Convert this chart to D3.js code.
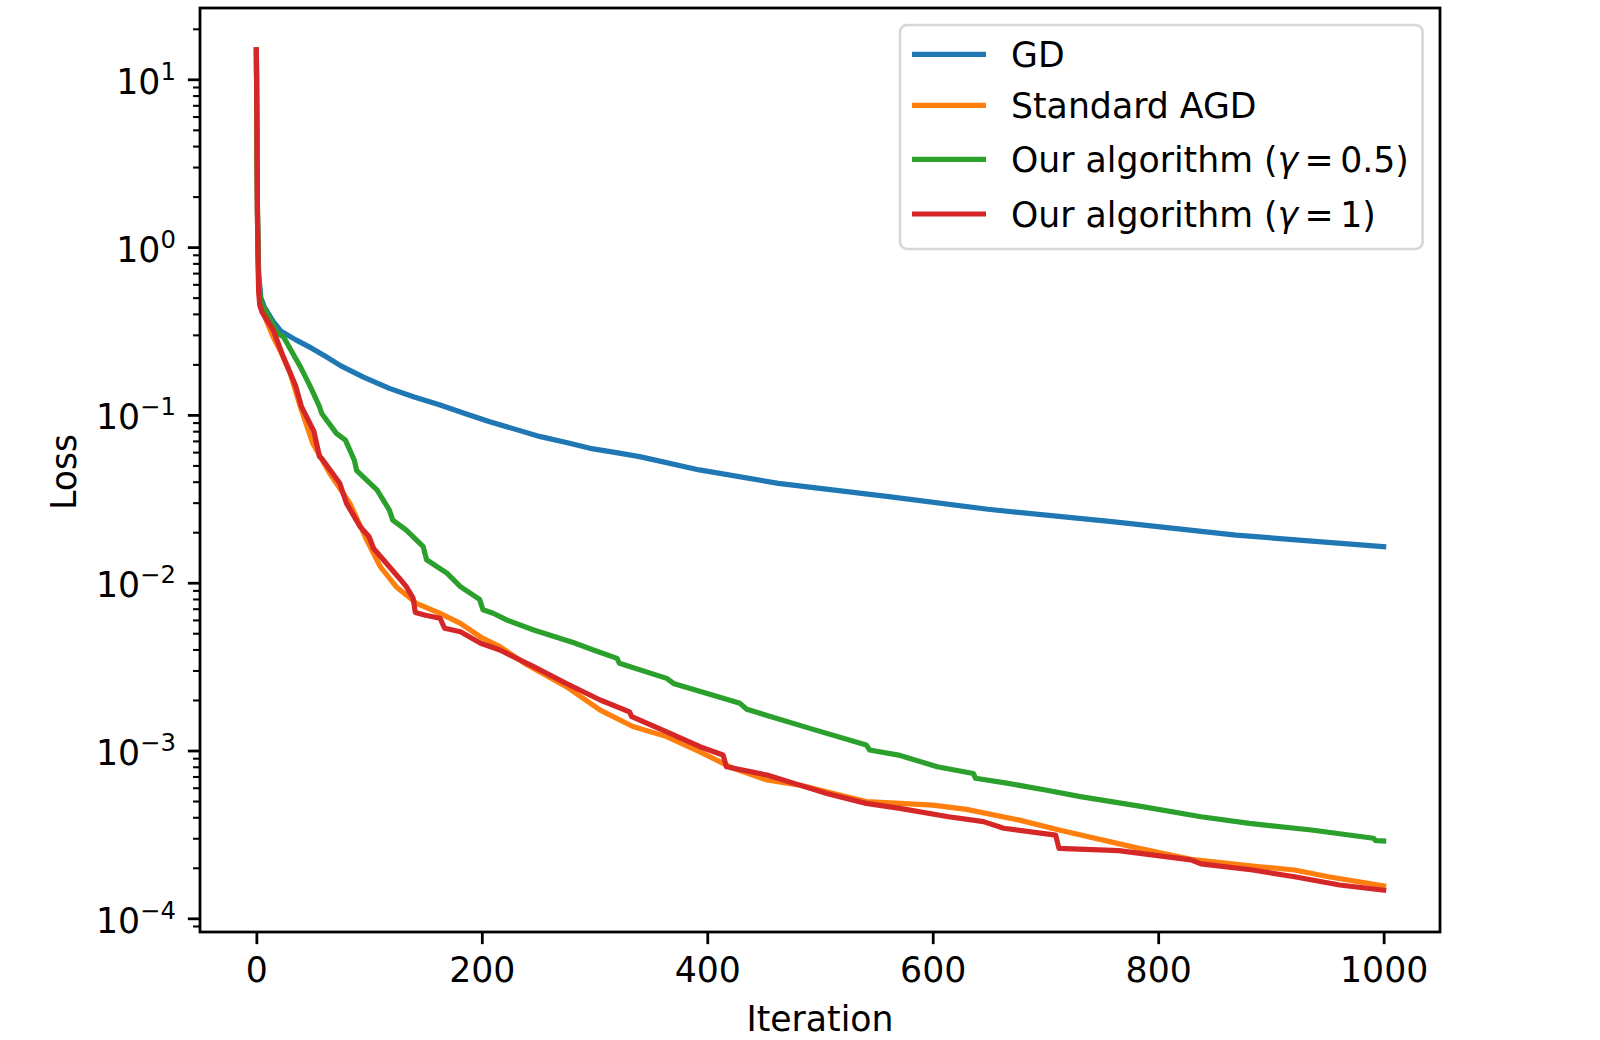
<!DOCTYPE html>
<html>
<head>
	<title>Loss vs Iteration</title>
	<style>
		body { margin: 0; background: #fff; }
		text { font-family: 'DejaVu Sans', sans-serif; fill: #000; }
	</style>
</head>
<body>

<svg id="chart" width="1600" height="1040"></svg>

<script src="https://d3js.org/d3.v7.min.js"></script>
<script>
	// -------------------------------------------------------------
	// Data (iteration, loss)

	const gdIter = [0, 1, 2, 4, 7, 15, 22, 35, 49, 62, 75, 95, 118, 140, 163, 185, 207, 230, 252, 275, 296, 318, 340, 393, 463, 561, 649, 759, 869, 1000]
	const gdLoss = [15, 1.6, 0.7, 0.5, 0.44, 0.36, 0.315, 0.28, 0.25, 0.222, 0.196, 0.168, 0.144, 0.128, 0.1145, 0.102, 0.091, 0.082, 0.0742, 0.0685, 0.0632, 0.0598, 0.0564, 0.047, 0.0391, 0.0326, 0.0274, 0.0231, 0.0192, 0.0164]

	const agdIter = [0, 1, 2, 3, 5, 10, 15, 22, 30, 39, 50, 65, 83, 98, 110, 124, 142, 163, 181, 200, 216, 240, 275, 305, 334, 364, 393, 423, 453, 482, 512, 541, 571, 600, 630, 676, 712, 783, 829, 890, 921, 951, 1000]
	const agdLoss = [15, 1.5, 0.6, 0.48, 0.42, 0.35, 0.29, 0.235, 0.177, 0.112, 0.0678, 0.0449, 0.0297, 0.0179, 0.01245, 0.00947, 0.00754, 0.00657, 0.00573, 0.0047, 0.00416, 0.00324, 0.0024, 0.00174, 0.00139, 0.00121, 0.000984, 0.000783, 0.000667, 0.000622, 0.000555, 0.000496, 0.000484, 0.000473, 0.000446, 0.000386, 0.000336, 0.000261, 0.000225, 0.000203, 0.000194, 0.000177, 0.000156]

	const ours05Iter = [0, 1, 2, 4, 8, 19, 24, 34, 39, 48, 56, 58, 71, 79, 87, 89, 107, 118, 121, 133, 148, 151, 169, 181, 198, 201, 210, 222, 246, 281, 299, 320, 322, 364, 370, 429, 435, 491, 541, 544, 571, 604, 636, 638, 667, 700, 731, 786, 838, 881, 936, 991, 993, 1000]
	const ours05Loss = [15, 1.6, 0.65, 0.47, 0.42, 0.306, 0.292, 0.222, 0.194, 0.147, 0.112, 0.102, 0.0776, 0.0708, 0.0535, 0.0465, 0.0357, 0.0271, 0.0236, 0.0206, 0.0164, 0.0137, 0.0114, 0.00947, 0.00795, 0.0069, 0.00658, 0.006, 0.00523, 0.0044, 0.00397, 0.00354, 0.00331, 0.00269, 0.00251, 0.00191, 0.00176, 0.001355, 0.00108, 0.001007, 0.000935, 0.0008, 0.00073, 0.000683, 0.000637, 0.000582, 0.000531, 0.000463, 0.000403, 0.000368, 0.000336, 0.0003, 0.00029, 0.000289]

	const ours1Iter = [0, 1, 2, 3, 5, 15, 23, 35, 40, 51, 56, 58, 74, 80, 92, 100, 104, 118, 127, 133, 139, 141, 150, 163, 167, 181, 199, 216, 246, 275, 305, 331, 333, 364, 394, 414, 417, 453, 482, 506, 541, 571, 614, 645, 663, 709, 712, 765, 829, 838, 884, 921, 961, 1000]
	const ours1Loss = [15, 1.4, 0.55, 0.45, 0.41, 0.32, 0.23, 0.148, 0.112, 0.08, 0.0564, 0.055, 0.0391, 0.0297, 0.0216, 0.0188, 0.016, 0.01245, 0.0106, 0.00947, 0.0081, 0.00665, 0.0064, 0.00614, 0.00535, 0.0051, 0.00436, 0.00397, 0.00316, 0.00251, 0.002, 0.0017, 0.00159, 0.00129, 0.00105, 0.00094, 0.0008, 0.000714, 0.000622, 0.000555, 0.000484, 0.000452, 0.000403, 0.000377, 0.000344, 0.000313, 0.000261, 0.000253, 0.000223, 0.000211, 0.000194, 0.000177, 0.000158, 0.000147]

	const seriesNames = ['GD', 'Standard AGD', 'Our algorithm (γ = 0.5)', 'Our algorithm (γ = 1)']
	const xTicks = [0, 200, 400, 600, 800, 1000]
	const yTickExps = [-4, -3, -2, -1, 0, 1]

	const series = [
		d3.zip(gdIter, gdLoss),
		d3.zip(agdIter, agdLoss),
		d3.zip(ours05Iter, ours05Loss),
		d3.zip(ours1Iter, ours1Loss)
	]

	// -------------------------------------------------------------
	// Layout (matplotlib-like axes box)

	const axLeft = 200, axRight = 1440, axTop = 8, axBottom = 932
	const fontSize = 34.7
	const lw = 5.2

	const svg = d3.select('#chart')

	const x = d3.scaleLinear()
		.domain([-50, 1050])
		.range([axLeft, axRight])

	const y = d3.scaleLog()
		.domain([Math.pow(10, -4.0816), Math.pow(10, 1.425)])
		.range([axBottom, axTop])

	// clip the lines to the axes box
	svg.append('clipPath')
		.attr('id', 'clip')
		.append('rect')
		.attr('x', axLeft).attr('y', axTop)
		.attr('width', axRight - axLeft).attr('height', axBottom - axTop)

	// Lines
	const line = d3.line()
		.x(d => x(d[0]))
		.y(d => y(d[1]))

	svg.append('g')
		.attr('clip-path', 'url(#clip)')
		.selectAll('path')
		.data(series)
		.enter()
		.append('path')
		.attr('d', line)
		.attr('fill', 'none')
		.attr('stroke', (d, i) => d3.schemeCategory10[i])
		.attr('stroke-width', lw)
		.attr('stroke-linejoin', 'round')
		.attr('stroke-linecap', 'square')

	// X axis
	const xAxis = svg.append('g')
		.attr('transform', `translate(0, ${axBottom})`)
		.call(d3.axisBottom(x).tickValues(xTicks).tickFormat(d3.format('d')).tickSize(12.15).tickPadding(13))
	xAxis.select('.domain').remove()
	xAxis.selectAll('.tick line').attr('stroke', '#000').attr('stroke-width', 2.78)
	xAxis.selectAll('.tick text')
		.attr('font-size', fontSize)
		.attr('font-family', 'DejaVu Sans')

	// Y axis: minor ticks first (all the 2..9 multiples the log scale gives)
	const minor = y.ticks().filter(v => Math.abs(Math.log10(v) - Math.round(Math.log10(v))) > 1e-6)
	const yMinor = svg.append('g')
		.attr('transform', `translate(${axLeft}, 0)`)
		.call(d3.axisLeft(y).tickValues(minor).tickSize(6.95).tickFormat(''))
	yMinor.select('.domain').remove()
	yMinor.selectAll('.tick line').attr('stroke', '#000').attr('stroke-width', 2.08)

	// major ticks with 10^n labels
	const yAxis = svg.append('g')
		.attr('transform', `translate(${axLeft}, 0)`)
		.call(d3.axisLeft(y).tickValues(yTickExps.map(e => Math.pow(10, e))).tickSize(12.15).tickPadding(12))
	yAxis.select('.domain').remove()
	yAxis.selectAll('.tick line').attr('stroke', '#000').attr('stroke-width', 2.78)
	yAxis.selectAll('.tick text')
		.attr('font-size', fontSize)
		.attr('font-family', 'DejaVu Sans')
		.attr('dy', 14)
		.each(function(d, i) {
			const t = d3.select(this)
			const e = Math.round(Math.log10(d))
			t.text(null)
			t.append('tspan').text('10')
			t.append('tspan')
				.attr('dy', -14)
				.attr('font-size', 24.3)
				.text(e < 0 ? '\u2212' + (-e) : String(e))
		})

	// Frame
	svg.append('rect')
		.attr('x', axLeft).attr('y', axTop)
		.attr('width', axRight - axLeft).attr('height', axBottom - axTop)
		.attr('fill', 'none')
		.attr('stroke', '#000')
		.attr('stroke-width', 2.78)

	// Axis labels
	svg.append('text')
		.attr('x', (axLeft + axRight) / 2)
		.attr('y', 1031)
		.attr('text-anchor', 'middle')
		.attr('font-size', fontSize)
		.text('Iteration')

	svg.append('text')
		.attr('transform', `translate(76, ${(axTop + axBottom) / 2 + 2}) rotate(-90)`)
		.attr('text-anchor', 'middle')
		.attr('font-size', fontSize)
		.text('Loss')

	// -------------------------------------------------------------
	// Legend

	const legendRowY = [54.3, 105.3, 159.3, 214]
	const legend = svg.append('g')

	legend.append('rect')
		.attr('x', 900).attr('y', 25)
		.attr('width', 522.6).attr('height', 224)
		.attr('rx', 7)
		.attr('fill', 'rgba(255,255,255,0.8)')
		.attr('stroke', '#d6d6d6')
		.attr('stroke-width', 2.6)

	const rows = legend.selectAll('g.row')
		.data(seriesNames)
		.enter()
		.append('g')
		.attr('class', 'row')
		.attr('transform', (d, i) => `translate(0, ${legendRowY[i]})`)

	rows.append('line')
		.attr('x1', 914.6).attr('x2', 983.4)
		.attr('stroke', (d, i) => d3.schemeCategory10[i])
		.attr('stroke-width', lw)
		.attr('stroke-linecap', 'square')

	// mathtext-like label: italic gamma, thick spaces around '='
	rows.append('text')
		.attr('x', 1011)
		.attr('y', 13)
		.attr('font-size', fontSize)
		.each(function(d) {
			const t = d3.select(this)
			const parts = d.split('γ')
			t.append('tspan').text(parts[0])
			if (parts.length > 1) {
				const rest = parts[1].split('=')
				t.append('tspan').attr('font-style', 'italic').text('γ')
				t.append('tspan').attr('dx', 6.5).text('=')
				t.append('tspan').attr('dx', 6.5).text(rest[1].trim())
			}
		})
</script>
</body>
</html>
